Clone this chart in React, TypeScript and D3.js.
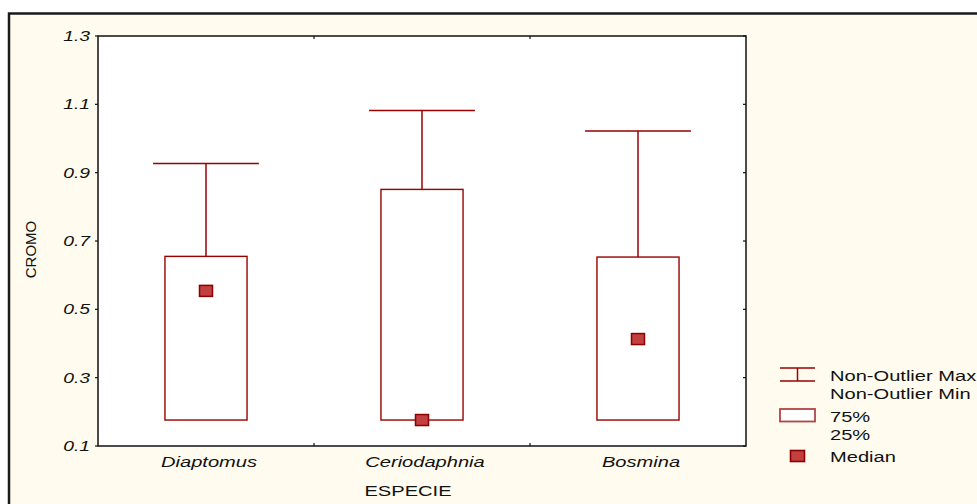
import React from "react";
import * as d3 from "d3";

const categories = ["Diaptomus", "Ceriodaphnia", "Bosmina"];
const whiskerMax = [0.927, 1.082, 1.022];
const q3 = [0.655, 0.851, 0.653];
const medians = [0.554, 0.176, 0.413];
const q1 = [0.176, 0.176, 0.176];
const whiskerMin = [0.176, 0.176, 0.176];
const yTicks = [0.1, 0.3, 0.5, 0.7, 0.9, 1.1, 1.3];
const legendItems = ["Non-Outlier Max", "Non-Outlier Min", "75%", "25%", "Median"];

const W = 977;
const H = 504;
const plot = { left: 98, right: 746, top: 36, bottom: 446 };
const LINE = "#990000";
const FONT = "Liberation Sans, Arial, sans-serif";
const SX = 1.34;

function SText(props: {
  x: number;
  y: number;
  size: number;
  anchor?: string;
  italic?: boolean;
  sx?: number;
  children: React.ReactNode;
}) {
  const { x, y, size, anchor = "start", italic = false, sx = SX, children } = props;
  return (
    <text
      transform={`translate(${x},${y}) scale(${sx},1)`}
      fontSize={size}
      fontFamily={FONT}
      fontStyle={italic ? "italic" : "normal"}
      textAnchor={anchor}
      fill="#111"
    >
      {children}
    </text>
  );
}

export default function App() {
  const x = d3.scaleBand<string>().domain(categories).range([plot.left, plot.right]).padding(0);
  const y = d3.scaleLinear().domain([0.1, 1.3]).range([plot.bottom, plot.top]);
  const bw = x.bandwidth();
  const boxW = bw * 0.38;
  const capW = bw * 0.245;
  const boundaries = categories.slice(1).map((c) => x(c) as number);

  return (
    <svg
      width={W}
      height={H}
      style={{ position: "absolute", left: 0, top: 0, background: "#ffffff" }}
    >
      {/* outer frame */}
      <rect x={9} y={13.5} width={W + 20} height={H + 20} fill="#fffcef" stroke="#1a1a1a" strokeWidth={2.5} />
      {/* plot area */}
      <rect
        x={plot.left}
        y={plot.top}
        width={plot.right - plot.left}
        height={plot.bottom - plot.top}
        fill="#ffffff"
        stroke="#111"
        strokeWidth={1.5}
      />
      {/* y ticks */}
      {yTicks.map((t) => (
        <g key={t}>
          <line x1={plot.left - 3} x2={plot.left} y1={y(t)} y2={y(t)} stroke="#111" strokeWidth={1.2} />
          <line x1={plot.right - 3} x2={plot.right} y1={y(t)} y2={y(t)} stroke="#111" strokeWidth={1.2} />
          <SText x={90} y={y(t) + 5} size={14} anchor="end" italic sx={1.38}>
            {t.toFixed(1)}
          </SText>
        </g>
      ))}
      {/* x ticks */}
      {boundaries.map((b) => (
        <g key={b}>
          <line x1={b} x2={b} y1={plot.bottom} y2={plot.bottom - 3} stroke="#111" strokeWidth={1.2} />
          <line x1={b} x2={b} y1={plot.top} y2={plot.top + 3} stroke="#111" strokeWidth={1.2} />
        </g>
      ))}
      {/* boxes */}
      {categories.map((c, i) => {
        const cx = (x(c) as number) + bw / 2;
        return (
          <g key={c}>
            <line x1={cx} x2={cx} y1={y(whiskerMax[i])} y2={y(q3[i])} stroke={LINE} strokeWidth={1.5} />
            <line x1={cx - capW} x2={cx + capW} y1={y(whiskerMax[i])} y2={y(whiskerMax[i])} stroke={LINE} strokeWidth={1.5} />
            {whiskerMin[i] < q1[i] && (
              <>
                <line x1={cx} x2={cx} y1={y(q1[i])} y2={y(whiskerMin[i])} stroke={LINE} strokeWidth={1.5} />
                <line x1={cx - capW} x2={cx + capW} y1={y(whiskerMin[i])} y2={y(whiskerMin[i])} stroke={LINE} strokeWidth={1.5} />
              </>
            )}
            <rect
              x={cx - boxW / 2}
              y={y(q3[i])}
              width={boxW}
              height={y(q1[i]) - y(q3[i])}
              fill="none"
              stroke={LINE}
              strokeWidth={1.4}
            />
            <rect
              x={cx - 6.5}
              y={y(medians[i]) - 5.5}
              width={13}
              height={11}
              fill="#c2403f"
              stroke="#8b0000"
              strokeWidth={1.5}
            />
            <SText x={cx + 3} y={467} size={15} anchor="middle" italic>
              {c}
            </SText>
          </g>
        );
      })}
      {/* axis titles */}
      <SText x={408} y={496} size={15} anchor="middle">
        ESPECIE
      </SText>
      <text
        transform="translate(36,249.5) rotate(-90)"
        fontSize={15}
        fontFamily={FONT}
        textAnchor="middle"
        fill="#111"
      >
        CROMO
      </text>
      {/* legend */}
      <g>
        <line x1={780} x2={815} y1={368} y2={368} stroke={LINE} strokeWidth={1.5} />
        <line x1={780} x2={815} y1={381} y2={381} stroke={LINE} strokeWidth={1.5} />
        <line x1={797.5} x2={797.5} y1={368} y2={381} stroke={LINE} strokeWidth={1.5} />
        <rect x={780} y={409} width={35} height={12.5} fill="#ffffff" stroke="#b04545" strokeWidth={1.8} />
        <rect x={790.5} y={450.5} width={14} height={11} fill="#c2403f" stroke="#8b0000" strokeWidth={1.6} />
        <SText x={830} y={380.5} size={15}>{legendItems[0]}</SText>
        <SText x={830} y={399} size={15}>{legendItems[1]}</SText>
        <SText x={830} y={422} size={15}>{legendItems[2]}</SText>
        <SText x={830} y={440} size={15}>{legendItems[3]}</SText>
        <SText x={830} y={462} size={15}>{legendItems[4]}</SText>
      </g>
    </svg>
  );
}
